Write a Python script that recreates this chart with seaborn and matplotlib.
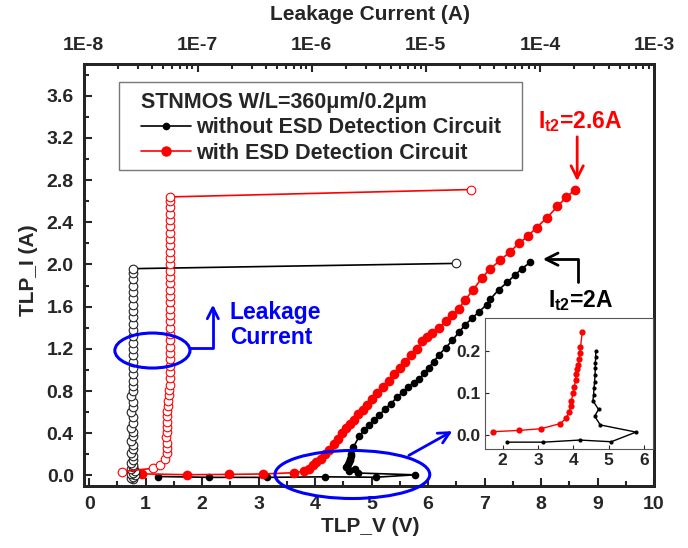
import numpy as np
import matplotlib
matplotlib.use("Agg")
import matplotlib.pyplot as plt
import seaborn as sns
from matplotlib.patches import Ellipse, Rectangle
from matplotlib.lines import Line2D
from matplotlib.ticker import MultipleLocator, LogLocator, NullFormatter, FuncFormatter, FormatStrFormatter

# ---------------- data ----------------
# main TLP I-V curves (TLP_V in V, TLP_I in A)
red_v = [0.93, 1.74, 2.47, 3.08, 3.62, 3.80, 3.90, 3.96, 4.02, 4.10, 4.18, 4.25, 4.33, 4.40, 4.47,
         4.54, 4.62, 4.69, 4.76, 4.84, 4.92, 5.01, 5.10, 5.20, 5.30, 5.40, 5.50, 5.60, 5.70, 5.80,
         5.90, 5.98, 6.07, 6.19, 6.31, 6.42, 6.54, 6.65, 6.80, 6.95, 7.10, 7.28, 7.45, 7.61, 7.77,
         7.92, 8.10, 8.29, 8.45, 8.61]
red_i = [0.015, 0.007, 0.010, 0.014, 0.026, 0.039, 0.06, 0.10, 0.13, 0.16, 0.20, 0.24, 0.30, 0.35, 0.40,
         0.45, 0.49, 0.53, 0.58, 0.62, 0.67, 0.72, 0.78, 0.84, 0.90, 0.96, 1.02, 1.08, 1.14, 1.20,
         1.27, 1.31, 1.35, 1.40, 1.46, 1.52, 1.58, 1.66, 1.76, 1.87, 1.96, 2.04, 2.12, 2.20, 2.27,
         2.35, 2.44, 2.55, 2.64, 2.71]

black_v = [1.22, 2.13, 3.15, 4.18, 5.07, 5.77, 4.76, 4.60, 4.71, 4.55, 4.57, 4.58, 4.60, 4.61, 4.62,
           4.63, 4.63, 4.68, 4.78, 4.87, 4.96, 5.05, 5.13, 5.24, 5.34, 5.45, 5.55, 5.65, 5.75, 5.84,
           5.93, 6.01, 6.10, 6.19, 6.31, 6.43, 6.55, 6.66, 6.78, 6.90, 7.04, 7.10, 7.25, 7.40, 7.54,
           7.66, 7.81]
black_i = [-0.010, -0.018, -0.018, -0.013, -0.017, 0.006, 0.023, 0.044, 0.060, 0.080, 0.094, 0.110, 0.126, 0.142, 0.158,
           0.186, 0.200, 0.27, 0.37, 0.43, 0.48, 0.53, 0.57, 0.63, 0.68, 0.74, 0.79, 0.84, 0.88, 0.91,
           0.97, 1.02, 1.08, 1.14, 1.21, 1.28, 1.36, 1.43, 1.49, 1.55, 1.62, 1.67, 1.76, 1.83, 1.90,
           1.96, 2.02]

# leakage current (A) measured after each TLP pulse, plotted against TLP_I
black_leak_i = [-0.03, -0.02, -0.01, 0.00, 0.01, 0.02, 0.04, 0.06, 0.08, 0.10, 0.12, 0.15, 0.18, 0.21, 0.25,
                0.29, 0.33, 0.37, 0.41, 0.45, 0.50, 0.55, 0.60, 0.65, 0.70, 0.75, 0.80, 0.85, 0.90, 0.96,
                1.02, 1.08, 1.14, 1.20, 1.26, 1.32, 1.38, 1.44, 1.50, 1.56, 1.62, 1.68, 1.74, 1.80, 1.86,
                1.92, 1.96, 2.01]
black_leak_a = [2.7e-8, 2.6e-8, 2.7e-8, 2.8e-8, 2.6e-8, 2.7e-8, 2.8e-8, 2.6e-8, 2.7e-8, 2.7e-8, 2.6e-8, 2.7e-8, 2.7e-8, 2.6e-8, 2.7e-8,
                2.7e-8, 2.6e-8, 2.7e-8, 2.7e-8, 2.6e-8, 2.7e-8, 2.7e-8, 2.6e-8, 2.7e-8, 2.7e-8, 2.6e-8, 2.7e-8, 2.7e-8, 2.7e-8, 2.7e-8,
                2.7e-8, 2.7e-8, 2.7e-8, 2.7e-8, 2.7e-8, 2.7e-8, 2.7e-8, 2.7e-8, 2.7e-8, 2.7e-8, 2.7e-8, 2.7e-8, 2.7e-8, 2.7e-8, 2.7e-8,
                2.7e-8, 2.7e-8, 1.84e-5]

red_leak_i = [0.036, 0.068, 0.10, 0.16, 0.21, 0.26, 0.31, 0.36, 0.41, 0.46, 0.51, 0.56, 0.61, 0.66, 0.71,
              0.76, 0.81, 0.86, 0.92, 0.98, 1.04, 1.10, 1.16, 1.22, 1.28, 1.34, 1.40, 1.46, 1.52, 1.58,
              1.64, 1.70, 1.76, 1.82, 1.88, 1.94, 2.00, 2.06, 2.12, 2.18, 2.24, 2.30, 2.36, 2.42, 2.48,
              2.54, 2.60, 2.64, 2.71]
red_leak_a = [2.16e-8, 4.09e-8, 4.68e-8, 5.2e-8, 5.4e-8, 5.35e-8, 5.35e-8, 5.3e-8, 5.35e-8, 5.35e-8, 5.4e-8, 5.35e-8, 5.4e-8, 5.5e-8, 5.5e-8,
              5.6e-8, 5.6e-8, 5.7e-8, 5.7e-8, 5.7e-8, 5.7e-8, 5.7e-8, 5.7e-8, 5.7e-8, 5.7e-8, 5.7e-8, 5.7e-8, 5.7e-8, 5.7e-8, 5.7e-8,
              5.7e-8, 5.7e-8, 5.7e-8, 5.7e-8, 5.7e-8, 5.7e-8, 5.7e-8, 5.7e-8, 5.7e-8, 5.7e-8, 5.7e-8, 5.7e-8, 5.7e-8, 5.7e-8, 5.7e-8,
              5.7e-8, 5.7e-8, 5.7e-8, 2.49e-5]

# inset (zoom on the low-current region)
inset_red_v = [1.74, 2.47, 3.08, 3.62, 3.80, 3.88, 3.92, 3.94, 3.99, 4.02, 4.06, 4.08, 4.11, 4.14, 4.16, 4.18, 4.20, 4.25]
inset_red_i = [0.007, 0.010, 0.014, 0.026, 0.039, 0.055, 0.067, 0.081, 0.098, 0.113, 0.129, 0.144, 0.156, 0.166, 0.179, 0.194, 0.208, 0.244]
inset_black_v = [2.13, 3.15, 4.18, 5.07, 5.77, 4.76, 4.60, 4.71, 4.55, 4.57, 4.58, 4.60, 4.61, 4.62, 4.62, 4.63, 4.63]
inset_black_i = [-0.018, -0.018, -0.013, -0.017, 0.006, 0.023, 0.044, 0.060, 0.081, 0.094, 0.110, 0.126, 0.142, 0.158, 0.170, 0.186, 0.200]

legend_title = "STNMOS W/L=360\u03bcm/0.2\u03bcm"
series_labels = ["without ESD Detection Circuit", "with ESD Detection Circuit"]
top_ticks = [1e-8, 1e-7, 1e-6, 1e-5, 1e-4, 1e-3]

# ---------------- style ----------------
sns.set_theme(style="ticks")
plt.rcParams['font.family'] = ['Liberation Sans', 'DejaVu Sans']
plt.rcParams['font.weight'] = 'bold'
plt.rcParams['axes.labelweight'] = 'bold'
plt.rcParams['mathtext.fontset'] = 'custom'
plt.rcParams['mathtext.rm'] = 'Liberation Sans:bold'
plt.rcParams['mathtext.bf'] = 'Liberation Sans:bold'
plt.rcParams['mathtext.it'] = 'Liberation Sans:bold'

RED = '#ff0000'
BLUE = '#0000ff'

fig = plt.figure(figsize=(6.88, 5.48), dpi=100)
fig.patch.set_facecolor('white')
W, H = 688, 548
ax = fig.add_axes([83.5 / W, 1 - 486 / H, 570.5 / W, 422 / H])
ax.set_facecolor('white')

# main curves
sns.lineplot(x=black_v, y=black_i, ax=ax, sort=False, estimator=None, color='black',
             marker='o', markersize=5.5, markeredgewidth=0, linewidth=1.2)
sns.lineplot(x=red_v, y=red_i, ax=ax, sort=False, estimator=None, color=RED,
             marker='o', markersize=7, markeredgewidth=0, linewidth=1.2)

ax.set_xlim(-0.1, 10)
ax.set_ylim(-0.1, 3.9)
ax.xaxis.set_major_locator(MultipleLocator(1))
ax.xaxis.set_minor_locator(MultipleLocator(0.5))
ax.yaxis.set_major_locator(MultipleLocator(0.4))
ax.yaxis.set_minor_locator(MultipleLocator(0.2))
ax.yaxis.set_major_formatter(FormatStrFormatter('%.1f'))
ax.xaxis.set_major_formatter(FormatStrFormatter('%d'))
ax.tick_params(which='both', direction='in', top=False, right=False, bottom=True, left=True, width=1.5)
ax.tick_params(which='major', length=6, labelsize=14, pad=7)
ax.tick_params(which='minor', length=3.5)
for s in ax.spines.values():
    s.set_linewidth(2)
    s.set_color('black')
for lab in ax.get_xticklabels() + ax.get_yticklabels():
    lab.set_fontweight('bold')

ax.set_xlabel("TLP_V (V)", fontsize=15, fontweight='bold')
ax.set_ylabel("TLP_I (A)", fontsize=15, fontweight='bold')
ax.xaxis.set_label_coords(0.502, -0.095)
ax.xaxis.label.set_va('center')
ax.yaxis.set_label_coords(-0.097, 0.512)
ax.yaxis.label.set_va('center')

# top axis: leakage current
ax2 = ax.twiny()
sns.lineplot(x=black_leak_a, y=black_leak_i, ax=ax2, sort=False, estimator=None, color='black',
             marker='o', markersize=6.2, markerfacecolor='white', markeredgecolor='#222222',
             markeredgewidth=0.8, linewidth=1.2)
sns.lineplot(x=red_leak_a, y=red_leak_i, ax=ax2, sort=False, estimator=None, color=RED,
             marker='o', markersize=6.2, markerfacecolor='white', markeredgecolor=RED,
             markeredgewidth=0.8, linewidth=1.2)
ax2.set_xscale('log')
ax2.set_xlim(1e-8, 1e-3)
ax2.set_ylim(-0.1, 3.9)
ax2.set_xticks(top_ticks)
ax2.xaxis.set_minor_locator(LogLocator(base=10, subs=np.arange(2, 10)))
ax2.xaxis.set_minor_formatter(NullFormatter())
ax2.xaxis.set_major_formatter(FuncFormatter(lambda v, p: "1E%d" % int(round(np.log10(v)))))
ax2.tick_params(axis='x', which='both', direction='in', top=True, bottom=False,
                labeltop=True, labelbottom=False, width=1.5)
ax2.tick_params(axis='x', which='major', length=6, labelsize=14, pad=7)
ax2.tick_params(axis='x', which='minor', length=3.5)
ax2.tick_params(axis='y', left=False, right=False, labelleft=False, labelright=False)
for s in ax2.spines.values():
    s.set_linewidth(2)
for lab in ax2.get_xticklabels():
    lab.set_fontweight('bold')
ax2.set_xlabel("Leakage Current (A)", fontsize=15, fontweight='bold')
ax2.xaxis.set_label_coords(0.502, 1.118)
ax2.xaxis.label.set_va('center')
ax2.set_ylabel("")

# legend (frame drawn separately so its padding matches the reference)
handles = [Line2D([], [], color='black', marker='o', markersize=5.5, markeredgewidth=0, linewidth=1.2),
           Line2D([], [], color=RED, marker='o', markersize=7.5, markeredgewidth=0, linewidth=1.2)]
leg = ax2.legend(handles, series_labels, title=legend_title, loc='upper left',
                 bbox_to_anchor=(141 / W, 1 - 92 / H), bbox_transform=fig.transFigure,
                 borderaxespad=0, borderpad=0, frameon=False,
                 prop={'size': 15.5, 'weight': 'bold'},
                 title_fontproperties={'size': 15.5, 'weight': 'bold'}, alignment='left',
                 handlelength=2.3, handletextpad=0.28, labelspacing=0.2)
fig.add_artist(Rectangle((119 / W, 1 - 170 / H), (522 - 119) / W, (170 - 82) / H,
                         transform=fig.transFigure, fill=False, edgecolor='#777777',
                         linewidth=1.0, zorder=3))

# annotations (drawn on top axes, positioned in main data coordinates)
T = ax.transData
ax2.text(8.69, 3.35, r"I$_{\rm t2}$=2.6A", transform=T, color=RED, fontsize=16.5,
         fontweight='bold', ha='center', va='center')
ax2.annotate("", xy=(8.64, 2.79), xytext=(8.64, 3.21), xycoords=T, textcoords=T,
             arrowprops=dict(arrowstyle='->', color=RED, lw=2, mutation_scale=22,
                             shrinkA=0, shrinkB=0))
ax2.text(8.71, 1.66, r"I$_{\rm t2}$=2A", transform=T, color='black', fontsize=16.5,
         fontweight='bold', ha='center', va='center')
ax2.annotate("", xy=(8.03, 2.05), xytext=(8.66, 1.83), xycoords=T, textcoords=T,
             arrowprops=dict(arrowstyle='->', color='black', lw=2, mutation_scale=22,
                             shrinkA=0, shrinkB=0,
                             connectionstyle='angle,angleA=90,angleB=0,rad=0'))

e1 = Ellipse((1.12, 1.184), 1.33, 0.332, transform=T, fill=False, edgecolor=BLUE, linewidth=2.2, zorder=5)
ax2.add_patch(e1)
ax2.annotate("", xy=(2.19, 1.62), xytext=(1.79, 1.21), xycoords=T, textcoords=T,
             arrowprops=dict(arrowstyle='->', color=BLUE, lw=2, mutation_scale=20,
                             shrinkA=0, shrinkB=0,
                             connectionstyle='angle,angleA=0,angleB=90,rad=0'))
ax2.text(2.49, 1.425, "Leakage\nCurrent", transform=T, color=BLUE, fontsize=16.5,
         fontweight='bold', ha='left', va='center', linespacing=1.15)

e2 = Ellipse((4.66, 0.009), 2.74, 0.455, transform=T, fill=False, edgecolor=BLUE, linewidth=2.2,
             clip_on=False, zorder=5)
ax2.add_patch(e2)
ax2.annotate("", xy=(6.43, 0.42), xytext=(5.66, 0.19), xycoords=T, textcoords=T,
             arrowprops=dict(arrowstyle='->', color=BLUE, lw=2, mutation_scale=20,
                             shrinkA=0, shrinkB=0))

# inset
axi = fig.add_axes([485 / W, 1 - 449.3 / H, (653 - 485) / W, (449.3 - 318.3) / H])
axi.set_zorder(10)
axi.set_facecolor('white')
sns.lineplot(x=inset_black_v, y=inset_black_i, ax=axi, sort=False, estimator=None, color='black',
             marker='o', markersize=3, markeredgewidth=0, linewidth=1.0)
sns.lineplot(x=inset_red_v, y=inset_red_i, ax=axi, sort=False, estimator=None, color=RED,
             marker='o', markersize=4.5, markeredgewidth=0, linewidth=1.0)
axi.set_xlim(1.5, 6.25)
axi.set_ylim(-0.035, 0.277)
axi.set_xticks([2, 3, 4, 5, 6])
axi.set_yticks([0.0, 0.1, 0.2])
axi.yaxis.set_major_formatter(FormatStrFormatter('%.1f'))
axi.tick_params(direction='in', length=3, width=0.8, labelsize=12.5, pad=3,
                bottom=True, left=True, top=False, right=False)
for lab in axi.get_xticklabels() + axi.get_yticklabels():
    lab.set_fontweight('bold')
for s in axi.spines.values():
    s.set_linewidth(0.8)
    s.set_color('#555555')
axi.set_xlabel("")
axi.set_ylabel("")

fig.savefig("out.png", dpi=100, facecolor='white')
